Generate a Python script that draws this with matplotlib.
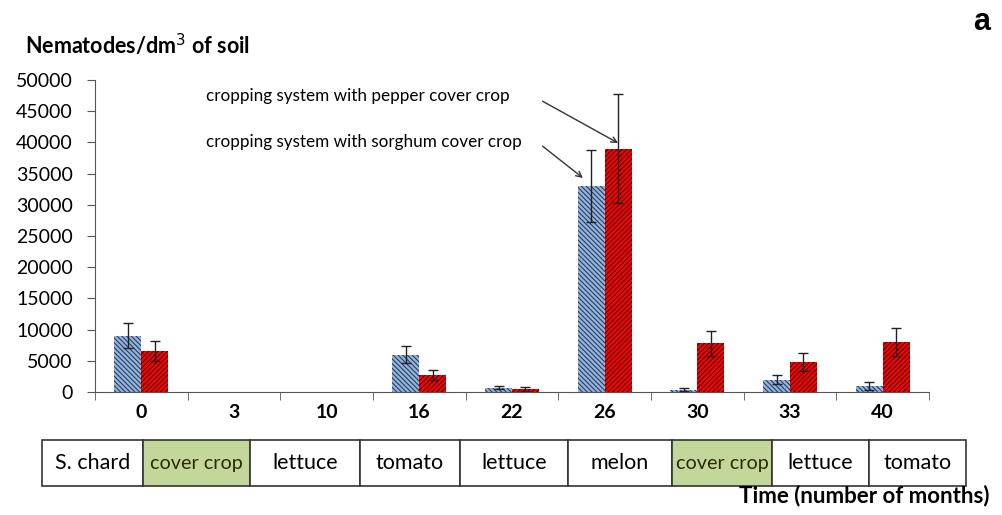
import numpy as np
import matplotlib
matplotlib.use("Agg")
import matplotlib.pyplot as plt
from matplotlib.patches import Rectangle

# data
months = ["0", "3", "10", "16", "22", "26", "30", "33", "40"]
sorghum = [9000, 0, 0, 6000, 700, 33000, 400, 2000, 1000]
sorghum_err = [2000, 0, 0, 1400, 250, 5800, 300, 700, 600]
pepper = [6500, 0, 0, 2700, 500, 39000, 7800, 4800, 8000]
pepper_err = [1600, 0, 0, 800, 350, 8700, 2000, 1500, 2200]
crops = ["S. chard", "cover crop", "lettuce", "tomato", "lettuce",
         "melon", "cover crop", "lettuce", "tomato"]
is_cover = [c == "cover crop" for c in crops]

W, H = 1003, 515
plt.rcParams["font.family"] = ["Lato", "DejaVu Sans"]
plt.rcParams["hatch.linewidth"] = 0.75

fig = plt.figure(figsize=(W / 100, H / 100), dpi=100)
ax = fig.add_axes([95 / W, 1 - 392 / H, (929 - 95) / W, (392 - 80) / H])

x = np.arange(len(months))
w = 0.29
ax.bar(x - w / 2, sorghum, w, color="#95b3d7", edgecolor="#1f3864",
       linewidth=0, hatch="\\" * 7)
ax.bar(x + w / 2, pepper, w, color="#ff0000", edgecolor="#300000",
       linewidth=0, hatch="/" * 7)
for xs, vals, errs in [(x - w / 2, sorghum, sorghum_err), (x + w / 2, pepper, pepper_err)]:
    m = np.array(errs) > 0
    ax.errorbar(xs[m], np.array(vals)[m], yerr=np.array(errs)[m], fmt="none",
                ecolor="#222222", elinewidth=1, capsize=3.5, capthick=1)

ax.set_xlim(-0.5, len(months) - 0.5)
ax.set_ylim(0, 50000)
ax.set_yticks(np.arange(0, 50001, 5000))
ax.tick_params(axis="y", labelsize=14, length=6, color="#555555", pad=10)
ax.set_xticks(x)
ax.set_xticklabels(months, fontweight="bold", fontsize=14)
ax.set_xticks(np.arange(-0.5, len(months)), minor=True)
ax.tick_params(axis="x", which="major", length=0, pad=9)
ax.tick_params(axis="x", which="minor", length=6, color="#555555")
for s in ["top", "right"]:
    ax.spines[s].set_visible(False)
for s in ["left", "bottom"]:
    ax.spines[s].set_color("#555555")

# annotations
i_peak = int(np.argmax(pepper))
ax.text(0.70, 47400, "cropping system with pepper cover crop", fontsize=12.3,
        va="center", ha="left")
ax.text(0.70, 40100, "cropping system with sorghum cover crop", fontsize=12.3,
        va="center", ha="left")
arrow = dict(arrowstyle="->", color="#333333", lw=1, shrinkA=0, shrinkB=0)
ax.annotate("", xy=(i_peak + w / 2, pepper[i_peak] + 900), xytext=(4.33, 46600),
            arrowprops=arrow)
ax.annotate("", xy=(i_peak - w / 2 - 0.09, sorghum[i_peak] + 1300), xytext=(4.33, 39400),
            arrowprops=arrow)

fig.text(25 / W, 1 - 45 / H, "Nematodes/dm$^3$ of soil", fontsize=15.5,
         fontweight="bold", va="center", ha="left")
fig.text(990 / W, 1 - 22 / H, "a", fontsize=22, fontweight="bold",
         family="Liberation Sans", va="center", ha="right")
fig.text(990 / W, 1 - 496 / H, "Time (number of months)", fontsize=16,
         fontweight="bold", va="center", ha="right")

# crop sequence strip
edges = [42, 143, 250, 360, 460, 568, 672, 772, 869, 966]
tax = fig.add_axes([42 / W, 1 - 486 / H, (966 - 42) / W, 46 / H])
tax.set_xlim(edges[0], edges[-1])
tax.set_ylim(0, 1)
tax.axis("off")
for i, lab in enumerate(crops):
    fc = "#c4d79b" if is_cover[i] else "white"
    tax.add_patch(Rectangle((edges[i], 0), edges[i + 1] - edges[i], 1,
                            facecolor=fc, edgecolor="#333333", lw=1.2, clip_on=False))
    tax.text((edges[i] + edges[i + 1]) / 2, 0.5, lab, ha="center", va="center",
             fontsize=15.5 if not is_cover[i] else 14.2,
             color="#2a2a00" if is_cover[i] else "black")

fig.savefig("out.png", dpi=100)
